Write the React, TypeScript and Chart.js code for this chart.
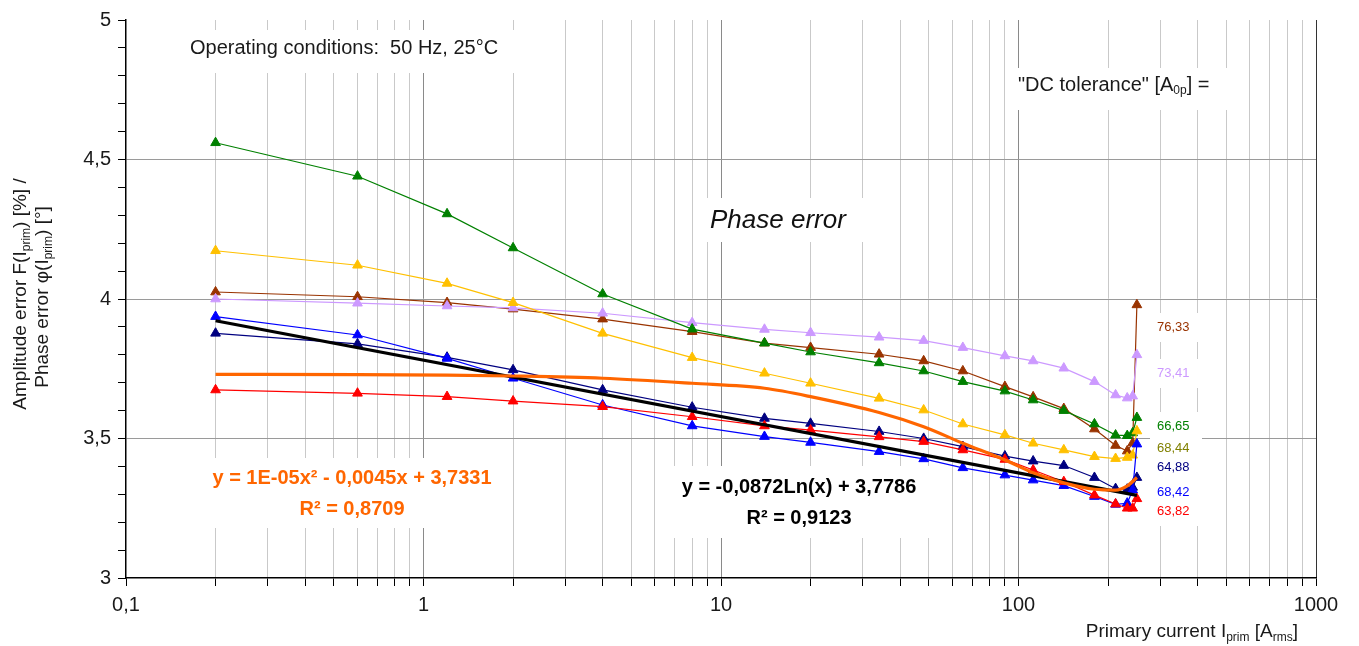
import React, { useEffect, useRef } from "react";
import { Chart, registerables } from "chart.js";

Chart.register(...registerables);

const FONT = '"Liberation Sans", Arial, Helvetica, sans-serif';

// Primary current of the measurement points [A rms]
const currents = [0.2, 0.6, 1.2, 2, 4, 8, 14, 20, 34, 48, 65, 90, 112, 142, 180, 212, 232, 242, 250];

// Phase error series, one per "DC tolerance" value [A 0p]
const dc7633 = [4.025, 4.008, 3.987, 3.964, 3.928, 3.883, 3.842, 3.826, 3.802, 3.778, 3.742, 3.686, 3.649, 3.607, 3.534, 3.475, 3.455, 3.484, 3.979];
const dc7341 = [4.0, 3.985, 3.975, 3.968, 3.949, 3.915, 3.891, 3.879, 3.863, 3.851, 3.826, 3.796, 3.778, 3.752, 3.704, 3.656, 3.645, 3.652, 3.8];
const dc6665 = [4.56, 4.44, 4.305, 4.183, 4.018, 3.892, 3.842, 3.81, 3.771, 3.742, 3.704, 3.67, 3.638, 3.6, 3.552, 3.512, 3.51, 3.52, 3.575];
const dc6844 = [4.173, 4.121, 4.056, 3.987, 3.877, 3.79, 3.734, 3.698, 3.644, 3.602, 3.552, 3.513, 3.483, 3.459, 3.435, 3.428, 3.432, 3.44, 3.527];
const dc6488 = [3.877, 3.839, 3.791, 3.746, 3.674, 3.612, 3.572, 3.554, 3.525, 3.5, 3.471, 3.437, 3.419, 3.403, 3.36, 3.32, 3.318, 3.325, 3.36];
const dc6842 = [3.937, 3.871, 3.787, 3.716, 3.62, 3.545, 3.507, 3.486, 3.453, 3.427, 3.395, 3.369, 3.351, 3.331, 3.292, 3.264, 3.268, 3.315, 3.48];
const dc6382 = [3.674, 3.662, 3.65, 3.634, 3.614, 3.578, 3.545, 3.53, 3.506, 3.489, 3.459, 3.425, 3.387, 3.345, 3.297, 3.265, 3.25, 3.25, 3.284];

// Trend lines
const logFitX = [0.2, 250];
const logFitY = [3.922, 3.296];
const polyFitX = [0.2, 0.6, 1.2, 2, 4, 8, 14, 20, 34, 48, 65, 90, 112, 142, 180, 212, 232, 250];
const polyFitY = [3.73, 3.729, 3.727, 3.724, 3.716, 3.698, 3.68, 3.65, 3.593, 3.542, 3.483, 3.423, 3.377, 3.341, 3.318, 3.315, 3.33, 3.36];

// Axis ticks
const xMajorValues = [0.1, 1, 10, 100, 1000];
const xTickLabels = ["0,1", "1", "10", "100", "1000"];
const yMajorValues = [3, 3.5, 4, 4.5, 5];
const yTickLabels = ["3", "3,5", "4", "4,5", "5"];

// Right-hand value labels
const dcLabels = ["76,33", "73,41", "66,65", "68,44", "64,88", "68,42", "63,82"];
const dcLabelColors = ["#993300", "#CC99FF", "#008000", "#808000", "#000080", "#0000FF", "#FF0000"];
const dcLabelY = [327, 373, 426, 448, 467, 492, 511];

const near = (a: number, b: number) => Math.abs(a - b) < 1e-6 * Math.max(1, Math.abs(b));

type Part = [string, boolean?];

function drawRich(
  ctx: CanvasRenderingContext2D,
  parts: Part[],
  x: number,
  y: number,
  align: "left" | "center" | "right",
  size: number,
  weight: string,
  color: string,
  style = "normal"
) {
  const subSize = Math.round(size * 0.62);
  const fontFor = (sub?: boolean) => `${style} ${weight} ${sub ? subSize : size}px ${FONT}`;
  let total = 0;
  const widths = parts.map(([t, sub]) => {
    ctx.font = fontFor(sub);
    const w = ctx.measureText(t).width;
    total += w;
    return w;
  });
  let cx = align === "center" ? x - total / 2 : align === "right" ? x - total : x;
  ctx.fillStyle = color;
  ctx.textBaseline = "middle";
  ctx.textAlign = "left";
  parts.forEach(([t, sub], i) => {
    ctx.font = fontFor(sub);
    ctx.fillText(t, cx, sub ? y + size * 0.3 : y);
    cx += widths[i];
  });
}

const overlayPlugin = {
  id: "overlay",
  beforeDatasetsDraw(chart: any) {
    const ctx: CanvasRenderingContext2D = chart.ctx;
    ctx.save();
    ctx.fillStyle = "#ffffff";
    // white label boxes
    const boxes = [
      [182, 30, 345, 43],
      [1010, 68, 232, 42],
      [700, 198, 170, 44],
      [196, 458, 312, 70],
      [666, 466, 264, 72],
    ];
    boxes.forEach(([x, y, w, h]) => ctx.fillRect(x, y, w, h));
    dcLabelY.forEach((y) => ctx.fillRect(1150, y - 14, 52, 29));
    ctx.restore();

    ctx.save();
    drawRich(ctx, [["Operating conditions:  50 Hz, 25°C"]], 190, 48, "left", 20, "normal", "#1a1a1a");
    drawRich(ctx, [["\"DC tolerance\" [A"], ["0p", true], ["] ="]], 1018, 85, "left", 20, "normal", "#1a1a1a");
    drawRich(ctx, [["Phase error"]], 710, 221, "left", 26, "normal", "#111", "italic");
    drawRich(ctx, [["y = 1E-05x² - 0,0045x + 3,7331"]], 352, 478, "center", 20, "bold", "#FF6600");
    drawRich(ctx, [["R² = 0,8709"]], 352, 509, "center", 20, "bold", "#FF6600");
    drawRich(ctx, [["y = -0,0872Ln(x) + 3,7786"]], 799, 487, "center", 20, "bold", "#000");
    drawRich(ctx, [["R² = 0,9123"]], 799, 518, "center", 20, "bold", "#000");
    dcLabels.forEach((t, i) => drawRich(ctx, [[t]], 1157, dcLabelY[i], "left", 13, "normal", dcLabelColors[i]));
    ctx.restore();
  },
  afterDraw(chart: any) {
    const ctx: CanvasRenderingContext2D = chart.ctx;
    ctx.save();
    ctx.translate(21, 294);
    ctx.rotate(-Math.PI / 2);
    drawRich(ctx, [["Amplitude error F(I"], ["prim", true], [") [%] /"]], 0, 0, "center", 19, "normal", "#1a1a1a");
    ctx.restore();
    ctx.save();
    ctx.translate(43, 297);
    ctx.rotate(-Math.PI / 2);
    drawRich(ctx, [["Phase error φ(I"], ["prim", true], [") [°]"]], 0, 0, "center", 19, "normal", "#1a1a1a");
    ctx.restore();
    ctx.save();
    drawRich(ctx, [["Primary current I"], ["prim", true], [" [A"], ["rms", true], ["]"]], 1298, 632, "right", 19, "normal", "#1a1a1a");
    ctx.restore();
  },
};

export default function App() {
  const ref = useRef<HTMLCanvasElement | null>(null);

  useEffect(() => {
    document.body.style.margin = "0";
    const canvas = ref.current;
    if (!canvas) return;

    const pts = (xs: number[], ys: number[]) => xs.map((x, i) => ({ x, y: ys[i] }));
    const series = (label: string, ys: number[], color: string) => ({
      label,
      data: pts(currents, ys),
      borderColor: color,
      backgroundColor: color,
      borderWidth: 1.2,
      pointStyle: "triangle",
      pointRadius: 5.6,
      pointBorderWidth: 1,
      pointBackgroundColor: color,
      pointBorderColor: color,
      tension: 0,
    });

    const chart = new Chart(canvas, {
      type: "line",
      data: {
        datasets: [
          {
            label: "poly fit",
            data: pts(polyFitX, polyFitY),
            borderColor: "#FF6600",
            borderWidth: 3.2,
            pointRadius: 0,
            cubicInterpolationMode: "monotone",
          } as any,
          {
            label: "log fit",
            data: pts(logFitX, logFitY),
            borderColor: "#000000",
            borderWidth: 3.2,
            pointRadius: 0,
          },
          series("63,82", dc6382, "#FF0000"),
          series("68,42", dc6842, "#0000FF"),
          series("64,88", dc6488, "#000080"),
          series("68,44", dc6844, "#FFC000"),
          series("66,65", dc6665, "#008000"),
          series("73,41", dc7341, "#CC99FF"),
          series("76,33", dc7633, "#993300"),
        ],
      },
      options: {
        animation: false,
        responsive: false,
        devicePixelRatio: 1,
        layout: { padding: { top: 20, right: 43, left: 0, bottom: 0 } },
        plugins: { legend: { display: false }, tooltip: { enabled: false } },
        scales: {
          x: {
            type: "logarithmic",
            min: 0.1,
            max: 1000,
            afterBuildTicks: (axis: any) => {
              const vals: number[] = [];
              for (let d = 0; d < 4; d++) {
                for (let k = 1; k <= 9; k++) vals.push(Number((k * Math.pow(10, d - 1)).toPrecision(6)));
              }
              vals.push(1000);
              axis.ticks = vals.map((v) => ({ value: v }));
            },
            afterFit: (axis: any) => {
              axis.height = 68;
            },
            ticks: {
              autoSkip: false,
              maxRotation: 0,
              minRotation: 0,
              padding: 7,
              color: "#1a1a1a",
              font: { family: FONT, size: 20 },
              callback: (v: any) => {
                const i = xMajorValues.findIndex((m) => near(Number(v), m));
                return i >= 0 ? xTickLabels[i] : "";
              },
            },
            grid: {
              drawTicks: true,
              tickLength: 8,
              tickColor: "#000",
              lineWidth: 1,
              color: (c: any) => {
                const v = c.tick ? c.tick.value : 0;
                if (near(v, 0.1)) return "rgba(0,0,0,0)";
                if (near(v, 1000)) return "#333";
                if (xMajorValues.some((m) => near(v, m))) return "#8a8a8a";
                return "#c9c9c9";
              },
            },
            border: { display: true, color: "#000", width: 1.5 },
          },
          y: {
            type: "linear",
            min: 3,
            max: 5,
            afterBuildTicks: (axis: any) => {
              const vals: number[] = [];
              for (let k = 30; k <= 50; k++) vals.push(k / 10);
              axis.ticks = vals.map((v) => ({ value: v }));
            },
            afterFit: (axis: any) => {
              axis.width = 126;
            },
            ticks: {
              autoSkip: false,
              padding: 7,
              color: "#1a1a1a",
              font: { family: FONT, size: 20 },
              callback: (v: any) => {
                const i = yMajorValues.findIndex((m) => near(Number(v), m));
                return i >= 0 ? yTickLabels[i] : "";
              },
            },
            grid: {
              drawTicks: true,
              tickLength: 8,
              tickColor: "#000",
              lineWidth: 1,
              color: (c: any) => {
                const v = c.tick ? c.tick.value : 0;
                if (near(v, 3) || near(v, 5)) return "rgba(0,0,0,0)";
                if (yMajorValues.some((m) => near(v, m))) return "#9a9a9a";
                return "rgba(0,0,0,0)";
              },
            },
            border: { display: true, color: "#000", width: 1.5 },
          },
        },
      },
      plugins: [overlayPlugin],
    } as any);

    return () => chart.destroy();
  }, []);

  return <canvas ref={ref} width={1359} height={646} style={{ display: "block", width: 1359, height: 646 }} />;
}
